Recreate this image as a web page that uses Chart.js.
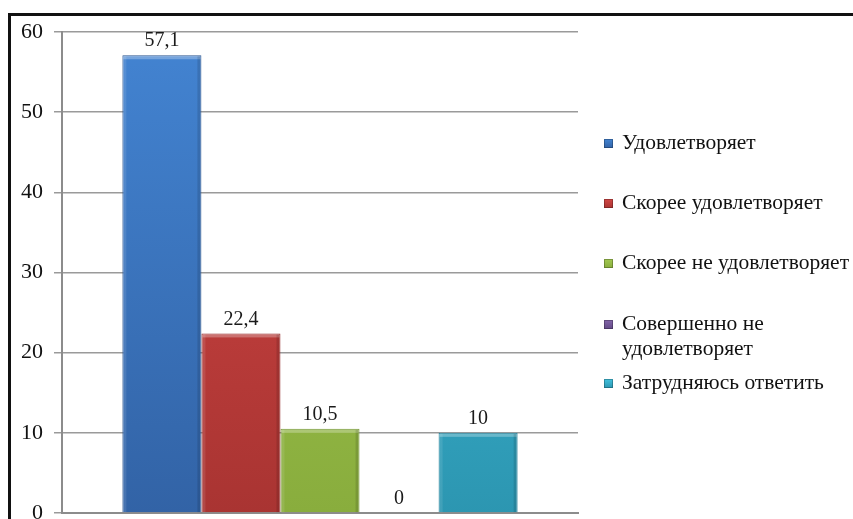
<!DOCTYPE html>
<html lang="ru">
<head>
<meta charset="utf-8">
<title>Удовлетворённость</title>
<script src="https://cdn.jsdelivr.net/npm/chart.js@4/dist/chart.umd.min.js"></script>
<style>
  html, body { margin: 0; padding: 0; background: #fff; }
  #wrap { position: relative; width: 853px; height: 519px; overflow: hidden; }
  #frame {
    position: absolute; left: 8px; top: 13px; width: 900px; height: 600px;
    border-top: 3px solid #111; border-left: 3px solid #111;
  }
  #chart { position: absolute; left: 0; top: 0; }
  #legend {
    position: absolute; left: 603px; top: 130px;
    font-family: 'Liberation Serif', 'DejaVu Serif', serif; font-size: 21.5px; color: #111;
  }
  .lg-item { position: absolute; left: 0; line-height: 25px; padding-left: 19px; width: 250px; }
  .lg-text { white-space: pre-line; }
  .lg-box {
    position: absolute; left: 1px; top: 9px; width: 9px; height: 9px;
    box-shadow: inset 0 0 0 1px rgba(0,0,0,0.25);
  }
</style>
</head>
<body>
<div id="wrap">
  <div id="frame"></div>
  <canvas id="chart" width="853" height="519"></canvas>
  <div id="legend"></div>
</div>
<script>
'use strict';

// ── Daten ──
const categories   = [''];
const seriesNames  = ['Удовлетворяет', 'Скорее удовлетворяет', 'Скорее не удовлетворяет', 'Совершенно  не\nудовлетворяет', 'Затрудняюсь ответить'];
const seriesValues = [57.1, 22.4, 10.5, 0, 10];
const yTicks       = [0, 10, 20, 30, 40, 50, 60];

// Farben: oben hell, unten dunkel
const topColors    = ['#4384d2', '#d34745', '#a3c952', '#8466aa', '#42c2de'];
const bottomColors = ['#3263a6', '#a93432', '#89ad3d', '#634a86', '#2c96b1'];
const edgeColors   = ['#2c5690', '#922a28', '#76983a', '#553e75', '#247f98'];

// Legendenzeilen (y-Versatz)
const legendRows   = [0, 60, 120, 181, 240];

const $ = id => document.getElementById(id);
const fmt = v => String(v).replace('.', ',');

function barGradient(i) {
  return ctx => {
    const area = ctx.chart.chartArea;
    if (!area) return topColors[i];
    const g = ctx.chart.ctx.createLinearGradient(0, area.top, 0, area.bottom);
    g.addColorStop(0, topColors[i]);
    g.addColorStop(1, bottomColors[i]);
    return g;
  };
}

// ── Wertebeschriftung über den Balken ──
const valueLabels = {
  id: 'valueLabels',
  afterDatasetsDraw(chart) {
    const c = chart.ctx;
    c.save();
    c.font = '20px "Liberation Serif", serif';
    c.fillStyle = '#1a1a1a';
    c.textAlign = 'center';
    c.textBaseline = 'bottom';
    chart.data.datasets.forEach((ds, i) => {
      const bar = chart.getDatasetMeta(i).data[0];
      c.fillText(fmt(ds.data[0]), bar.x, bar.y - 4);
    });
    c.restore();
  }
};

// ── Glanzkante oben und Schatten rechts ──
const bevel = {
  id: 'bevel',
  afterDatasetsDraw(chart) {
    const c = chart.ctx;
    c.save();
    chart.data.datasets.forEach((ds, i) => {
      const bar = chart.getDatasetMeta(i).data[0];
      const h = bar.base - bar.y;
      if (h < 2) return;
      const l = bar.x - bar.width / 2, r = bar.x + bar.width / 2;
      c.fillStyle = 'rgba(255,255,255,0.28)';
      c.fillRect(l + 1, bar.y + 1, bar.width - 2, 3);
      c.fillStyle = 'rgba(0,0,0,0.12)';
      c.fillRect(r - 4, bar.y + 1, 3, h - 1);
      c.fillStyle = 'rgba(255,255,255,0.10)';
      c.fillRect(l + 1, bar.y + 1, 3, h - 1);
    });
    c.restore();
  }
};

new Chart($('chart'), {
  type: 'bar',
  data: {
    labels: categories,
    datasets: seriesNames.map((name, i) => ({
      label: name,
      data: [seriesValues[i]],
      backgroundColor: barGradient(i),
      borderColor: edgeColors[i],
      borderWidth: 1,
      barPercentage: 1,
      categoryPercentage: 0.766,
    })),
  },
  options: {
    responsive: false,
    animation: false,
    layout: { padding: { top: 32, right: 275, bottom: 6, left: 0 } },
    plugins: { legend: { display: false }, tooltip: { enabled: false } },
    scales: {
      x: {
        afterFit: scale => { scale.height = 0; },
        ticks: { display: false },
        grid: { display: false },
        border: { display: true, color: '#8c8c8c', width: 2 },
      },
      y: {
        min: 0, max: 60,
        afterBuildTicks: scale => { scale.ticks = yTicks.map(v => ({ value: v })); },
        afterFit: scale => {
          scale.width = 62;
          scale.paddingTop = 0;
          scale.paddingBottom = 0;
        },
        ticks: {
          color: '#111', padding: 11,
          font: { family: 'Liberation Serif', size: 22 },
        },
        grid: { color: '#9a9a9a', lineWidth: 1.5, tickLength: 8 },
        border: { display: true, color: '#8c8c8c', width: 2 },
      },
    },
  },
  plugins: [bevel, valueLabels],
});

// ── Legende ──
$('legend').innerHTML = seriesNames.map((name, i) =>
  `<div class="lg-item" style="top:${legendRows[i]}px;"><span class="lg-box" style="background:linear-gradient(${topColors[i]}, ${bottomColors[i]});"></span><span class="lg-text">${name}</span></div>`
).join('');
</script>
</body>
</html>
